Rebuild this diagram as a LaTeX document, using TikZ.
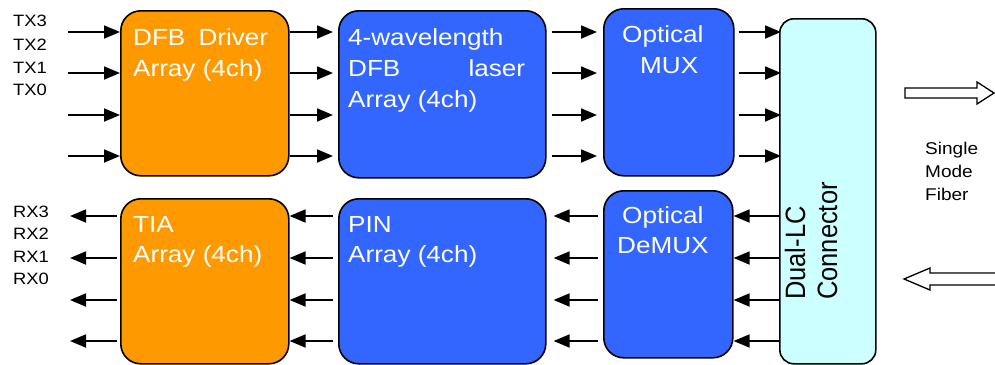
\documentclass[tikz,border=0pt]{standalone}
\usepackage{fontspec}
\setmainfont{Liberation Sans}[FakeStretch=1.12]
\newfontfamily\rotfont{Liberation Sans}[FakeStretch=0.91]
\usetikzlibrary{arrows.meta}
\definecolor{orng}{HTML}{FF9900}
\definecolor{blu}{HTML}{3366FF}
\definecolor{cyn}{HTML}{CCFFFF}
\begin{document}
\begin{tikzpicture}[x=1pt,y=-1pt,
 blk/.style={draw=black, line width=1.6pt, rounded corners=20pt, inner sep=0pt, anchor=north west},
 wt/.style={text=white, font=\fontsize{23.3}{31}\selectfont, anchor=base west, inner sep=0pt},
 lbl/.style={font=\fontsize{16.4}{20}\selectfont, anchor=base west, inner sep=0pt},
 fib/.style={font=\fontsize{17}{20}\selectfont, anchor=base west, inner sep=0pt},
 arr/.style={line width=1.8pt, -{Triangle[length=16pt,width=13pt]}},
 hollow/.style={line width=1.3pt, fill=white, line join=miter},
]
\useasboundingbox (0,0) rectangle (995,364);

% boxes
\node[blk, fill=orng, minimum width=168pt, minimum height=165pt] (drv) at (120,10) {};
\node[blk, fill=blu, minimum width=207pt, minimum height=167pt] (las) at (338,10) {};
\node[blk, fill=blu, minimum width=130pt, minimum height=167pt] (mux) at (603,8) {};
\node[blk, fill=cyn, rounded corners=14pt, minimum width=96pt, minimum height=345pt] (conn) at (779,18) {};
\node[blk, fill=orng, minimum width=168pt, minimum height=165pt] (tia) at (120,198) {};
\node[blk, fill=blu, minimum width=207pt, minimum height=165pt] (pin) at (338,198) {};
\node[blk, fill=blu, minimum width=129pt, minimum height=167pt] (demux) at (603,190) {};

% box texts
\node[wt] (t1) at (133,45) {\makebox[135pt]{DFB\hfill Driver}};
\node[wt] (t2) at (133,76) {Array (4ch)};
\node[wt] (t3) at (348,45) {4-wavelength};
\node[wt] (t4) at (348,76) {\makebox[177pt]{DFB\hfill laser}};
\node[wt] (t5) at (348,107) {Array (4ch)};
\node[wt] (t6) at (622,42) {Optical};
\node[wt] (t7) at (640,73) {MUX};
\node[wt] (t8) at (133,232) {TIA};
\node[wt] (t9) at (133,262) {Array (4ch)};
\node[wt] (t10) at (348,232) {PIN};
\node[wt] (t11) at (348,262) {Array (4ch)};
\node[wt] (t12) at (622,223) {Optical};
\node[wt] (t13) at (617,253) {DeMUX};
\node[rotate=90, anchor=base west, inner sep=0pt, font=\rotfont\fontsize{28}{32}\selectfont] (c1) at (805,300) {Dual-LC};
\node[rotate=90, anchor=base west, inner sep=0pt, font=\rotfont\fontsize{28}{32}\selectfont] (c2) at (837,300) {Connector};

% side labels
\node[lbl] (tx3) at (13,27) {TX3};
\node[lbl] (tx2) at (13,50) {TX2};
\node[lbl] (tx1) at (13,73) {TX1};
\node[lbl] (tx0) at (13,95) {TX0};
\node[lbl] (rx3) at (13,217) {RX3};
\node[lbl] (rx2) at (13,239) {RX2};
\node[lbl] (rx1) at (13,262) {RX1};
\node[lbl] (rx0) at (13,284) {RX0};
\node[fib] (f1) at (925,154) {Single};
\node[fib] (f2) at (925,177) {Mode};
\node[fib] (f3) at (925,200) {Fiber};

% transmit arrows
\foreach \i/\y in {1/32,2/73,3/115,4/156} {
  \coordinate (in\i) at (68,\y);
  \draw[arr] (in\i) -- (drv.west |- in\i);
  \draw[arr] (drv.east |- in\i) -- ([xshift=-5pt]las.west |- in\i);
  \draw[arr] ([xshift=5pt]las.east |- in\i) -- ([xshift=-6pt]mux.west |- in\i);
  \draw[arr] ([xshift=4pt]mux.east |- in\i) -- ([xshift=2pt]conn.west |- in\i);
}
% receive arrows
\foreach \i/\y in {1/216,2/258,3/300,4/341} {
  \coordinate (out\i) at (70,\y);
  \draw[arr] (conn.west |- out\i) -- (demux.east |- out\i);
  \draw[arr] ([xshift=-5pt]demux.west |- out\i) -- ([xshift=7pt]pin.east |- out\i);
  \draw[arr] ([xshift=-5pt]pin.west |- out\i) -- (tia.east |- out\i);
  \draw[arr] ([xshift=-3pt]tia.west |- out\i) -- (out\i);
}

% fibre arrows
\draw[hollow] (905,88) -- (977,88) -- (977,82) -- (994,93) -- (977,104) -- (977,98) -- (905,98) -- cycle;
\draw[hollow] (1002,273) -- (930,273) -- (930,268) -- (904,279) -- (930,290) -- (930,285) -- (1002,285);
\end{tikzpicture}
\end{document}
